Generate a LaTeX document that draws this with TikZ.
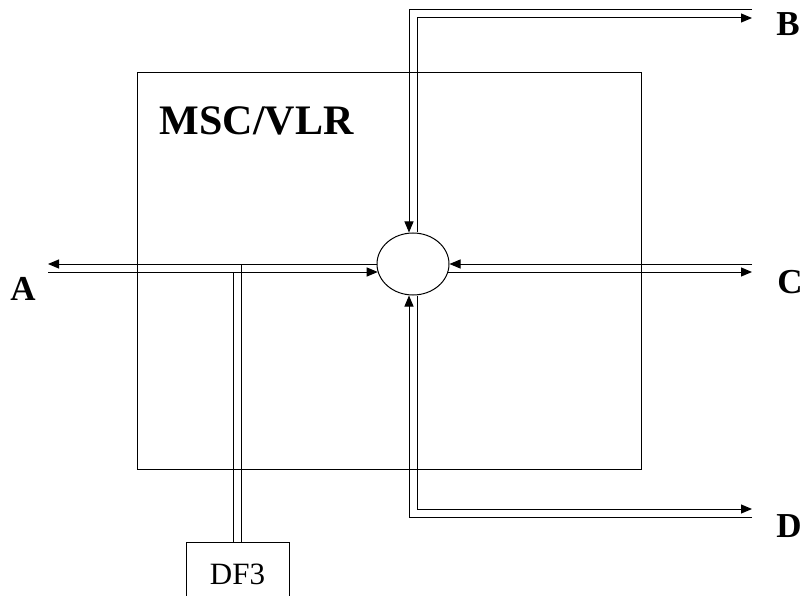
\documentclass[tikz,border=0pt]{standalone}
\usepackage{fontspec}
\setmainfont{Liberation Serif}
\usetikzlibrary{arrows.meta,calc,positioning,shapes.geometric}

\tikzset{
  link/.style={line width=1pt},
  flow/.style={link,-{Triangle[length=11pt,width=9pt]}},
  port/.style={font=\fontsize{35}{35}\selectfont\bfseries,inner sep=0pt,anchor=base}
}

\begin{document}
\begin{tikzpicture}[x=1pt,y=-1pt]
			\useasboundingbox (0,0) rectangle (803,596);
			\node[draw, line width=1pt, minimum width=504pt, minimum height=396pt] (msc) at (389,271) {};
			\node[font=\fontsize{42}{42}\selectfont\bfseries, inner sep=0pt, anchor=base west] (msc_l) at ($(msc.north west)+(23,62)$) {MSC/VLR};
			\node[draw, ellipse, line width=1pt, fill=white, minimum width=72pt, minimum height=62pt, inner sep=0pt] (sw) at (413,264) {};
			\node[draw, line width=1pt, minimum width=103pt, minimum height=64pt, font=\fontsize{31}{31}\selectfont] (df_3) at (237.5,574) {DF3};
			\node[port] (l_a) at (23,300) {A};
			\node[port] (l_b) at (788,36) {B};
			\node[port] (l_c) at (790,293) {C};
			\node[port] (l_d) at (789,537) {D};
			\coordinate (a_out) at (48,264);
			\coordinate (a_in) at (48,272);
			\coordinate (b_out) at (752,10);
			\coordinate (b_in) at (752,18);
			\coordinate (c_out) at (752,272);
			\coordinate (c_in) at (752,264);
			\coordinate (d_out) at (752,517);
			\coordinate (d_in) at (752,509);
			% A side
			\draw[flow] (sw.west) -- (a_out);
			\draw[flow] (a_in) -- (a_in -| sw.193);
			% B side
			\draw[flow] (b_out) -| ($(sw.north)+(-4,0)$);
			\draw[flow] ($(sw.north)+(4,0)$) |- (b_in);
			% C side
			\draw[flow] (c_in) -- (sw.east);
			\draw[flow] (c_out -| sw.-13) -- (c_out);
			% D side
			\draw[flow] (d_out) -| ($(sw.south)+(-4,0)$);
			\draw[flow] ($(sw.south)+(4,0)$) |- (d_in);
			% tap to DF3
			\draw[link] ($(df_3.north)+(-4,0)$) coordinate (t_l) -- (t_l |- a_in);
			\draw[link] ($(df_3.north)+(4,0)$) coordinate (t_r) -- (t_r |- a_out);
		\end{tikzpicture}
\end{document}
